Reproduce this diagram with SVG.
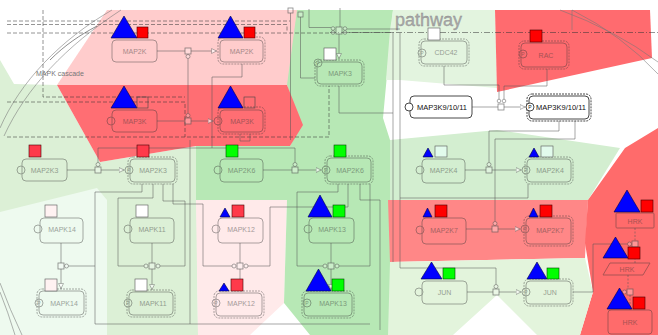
<svg xmlns="http://www.w3.org/2000/svg" width="658" height="335" viewBox="0 0 658 335">
<defs>
<style>
text{font-family:"Liberation Sans",Arial,sans-serif}
.f{opacity:0.45}
.f rect,.f circle,.f polygon{fill:none;stroke:#333;stroke-width:0.9}
.f .d{stroke-dasharray:2,1}
.f text{font-size:7px;fill:#333;text-anchor:middle}
.f .p{font-size:5px}
.bk rect,.bk circle{fill:#fff;stroke:#333;stroke-width:0.9}
.bk .d{fill:none;stroke-dasharray:2,1}
.bk text{font-size:7.5px;fill:#111;text-anchor:middle}
.bk .p{font-size:5px}
.tri{fill:#0000ff;stroke:#000044;stroke-width:0.6}
.sr{fill:#ff0000;stroke:#440000;stroke-width:0.6}
.sr2{fill:#ff3a4a;stroke:#440000;stroke-width:0.6}
.sg{fill:#00ff00;stroke:#004400;stroke-width:0.6}
.sw{fill:#ffffff;stroke:#555;stroke-width:0.6}
.sp{fill:#fff2f2;stroke:#555;stroke-width:0.6}
.sm{fill:#e2fbec;stroke:#555;stroke-width:0.6}
.so{fill:none;stroke:#444;stroke-width:0.6}
#connectors path{fill:none;stroke:#555;stroke-width:0.8;opacity:0.65}
#connectors .pb{fill:#fff;fill-opacity:0.4;stroke:#555;stroke-width:0.8;opacity:0.7}
#connectors .pc{fill:#fff;fill-opacity:0.4;stroke:#555;stroke-width:0.7;opacity:0.7}
#connectors .dl{stroke-dasharray:2,1.5}
.cmp{fill:none;stroke:#333;stroke-width:0.7;stroke-dasharray:4,2;opacity:0.75}
.arc{fill:none;stroke:#777;stroke-width:0.7;opacity:0.8}
</style>
<marker id="ar" viewBox="0 0 6 6" refX="6" refY="3" markerWidth="6" markerHeight="6" orient="auto" markerUnits="userSpaceOnUse">
<path d="M0.5,0.5 L5.5,3 L0.5,5.5 Z" fill="#fff" stroke="#666" stroke-width="0.7"/>
</marker>
</defs>
<g id="background">
<rect x="0" y="0" width="658" height="335" fill="#ffffff"/>
<polygon points="0,60 14,84 57,85 100,162 196,146 198,335 0,335" fill="#dcf0d6"/>
<polygon points="0,212 97,188 107,200 107,335 0,335" fill="#eefaef"/>
<polygon points="196,200 287,200 284,303 250,335 198,335" fill="#ffeaea"/>
<polygon points="287,10 393,10 383,118 390,140 390,335 310,335 284,303 287,200 196,200 196,146 290,146 300,125 287,85" fill="#b7e8b5"/>
<polygon points="393,10 495,10 497,88 400,80 386,80 390,30" fill="#e3f4df"/>
<polygon points="495,10 650,10 652,58 497,92" fill="#ff6b6f"/>
<polygon points="390,140 497,130 620,148 588,200 390,205" fill="#d3eed0"/>
<polygon points="388,200 588,200 585,258 390,262" fill="#ff8787"/>
<polygon points="658,128 625,148 588,200 585,243 593,292 580,335 658,335" fill="#ff6b6b"/>
<polygon points="390,262 585,258 593,292 580,335 537,335 497,295 453,335 388,335" fill="#e3f4dc"/>
<polygon points="57,85 287,85 303,125 290,146 196,146 100,162" fill="#ff6e73"/>
<polygon points="107,10 297,10 287,85 57,85" fill="#ffcccc"/>
<rect x="0" y="0" width="658" height="9" fill="#ffffff"/>
</g>
<g id="compartments">
<path class="arc" d="M0,128 C20,82 60,40 112,10"/>
<path class="arc" d="M4,136 C26,88 66,46 121,10"/>
<path class="arc" d="M50,60 C65,45 80,35 97,26" style="stroke:#333"/>
<path class="arc" d="M0,283 Q10,310 22,335"/>
<path class="arc" d="M0,292 Q8,312 15,335"/>
<path class="arc" d="M560,10 Q615,30 658,62"/>
<path class="arc" d="M572,10 Q622,35 658,74"/>
<path class="arc" d="M572,10 V30"/>
<path class="cmp" d="M7,21 H290"/>
<path class="cmp" d="M7,24.5 H287 V32"/>
<path class="cmp" d="M7,33 H330"/>
<path class="cmp" d="M330,32.5 H658" style="stroke-dasharray:6,2,1,2"/>
<path class="cmp" d="M43,10 V97 H185"/>
<path class="cmp" d="M7,102 H185 V137"/>
<path class="cmp" d="M7,137 H329 V86"/>
<text x="395" y="26" font-size="18" fill="#a8a8a8" stroke="#888" stroke-width="0.3">pathway</text>
<text x="36" y="76" font-size="7" fill="#777">MAPK cascade</text>
</g>
<g id="connectors">
<path d="M157,51 H185"/><rect class="pb" x="185" y="48" width="6" height="6"/><path d="M191,51 H217" marker-end="url(#ar)"/>
<circle class="pc" cx="188" cy="56.5" r="2"/><path d="M188,58.5 V113.5"/>
<path d="M157,121 H185"/><rect class="pb" x="185" y="118" width="6" height="6"/><path d="M191,121 H213.5" marker-end="url(#ar)"/>
<circle class="pc" cx="188" cy="115.5" r="2"/>
<path d="M242,64 V77 H212 V148"/>
<path d="M240,134 V141 H250 V134"/>
<path d="M67,170 H95"/><rect class="pb" x="95" y="167" width="6" height="6"/><path d="M101,170 H124.5" marker-end="url(#ar)"/><circle class="pc" cx="98" cy="164.5" r="2"/>
<path d="M263,170 H292"/><rect class="pb" x="292" y="167" width="6" height="6"/><path d="M298,170 H321.5" marker-end="url(#ar)"/><circle class="pc" cx="295" cy="164.5" r="2"/>
<path d="M98,162.5 V148 H295 V162.5"/>
<path d="M465,170 H486"/><rect class="pb" x="486" y="167" width="6" height="6"/><path d="M492,170 H521.5" marker-end="url(#ar)"/><circle class="pc" cx="489" cy="164.5" r="2"/>
<path d="M489,162.5 V131 H559 V121"/>
<path d="M466,229 H492"/><rect class="pb" x="492" y="226" width="6" height="6"/><path d="M498,229 H520.5" marker-end="url(#ar)"/><circle class="pc" cx="495" cy="223.5" r="2"/>
<path d="M495,221.5 V139 H575 V121"/>
<path d="M528,184 V198 H400"/>
<path d="M472,107 H498"/><rect class="pb" x="498" y="104" width="6" height="6"/><path d="M504,107 H525.5" marker-end="url(#ar)"/>
<circle class="pc" cx="499" cy="101" r="1.8"/><circle class="pc" cx="504" cy="101" r="1.8"/>
<path d="M444,66 V85 H499 V99.2"/><path d="M547,69 V86 H504 V99.2"/>
<path d="M467,292 H493"/><rect class="pb" x="493" y="289" width="6" height="6"/><path d="M499,292 H521.5" marker-end="url(#ar)"/><circle class="pc" cx="496" cy="286.5" r="2"/>
<path d="M496,284.5 V268 H400 V33"/>
<path d="M573,292 H593 V244 H627.5"/>
<path class="dl" d="M635,228 V241"/><rect class="pb" x="632" y="241" width="6" height="6"/><circle class="pc" cx="629.5" cy="244" r="2"/><path class="dl" d="M635,247 V263"/>
<path class="dl" d="M628,275 V289"/><rect class="pb" x="627" y="289" width="6" height="6"/><circle class="pc" cx="624.5" cy="292" r="2"/><path class="dl" d="M630,295 V310"/>
<path d="M61,243 V263"/><rect class="pb" x="58" y="263" width="6" height="6"/><circle class="pc" cx="66.5" cy="266" r="2"/><path d="M61,269 V289" marker-end="url(#ar)"/>
<path d="M68.5,266 H95"/><path d="M142,184 V192 H95 V324 H370"/><path d="M190,324 V140"/>
<path d="M152,243 V263"/><rect class="pb" x="149" y="263" width="6" height="6"/><circle class="pc" cx="146" cy="266" r="2"/><circle class="pc" cx="158" cy="266" r="2"/><path d="M152,269 V290" marker-end="url(#ar)"/>
<path d="M144,266 H118 V198 H153 V184"/><path d="M160,266 H185 V201 H163 V184"/>
<path d="M240,243 V263"/><rect class="pb" x="237" y="263" width="6" height="6"/><circle class="pc" cx="234" cy="266" r="2"/><circle class="pc" cx="246" cy="266" r="2"/><path d="M240,269 V291" marker-end="url(#ar)"/>
<path d="M232,266 H203 V204 H173 V184"/><path d="M248,266 H270 V207 H348 V184"/>
<path d="M331,243 V263"/><rect class="pb" x="328" y="263" width="6" height="6"/><circle class="pc" cx="325" cy="266" r="2"/><circle class="pc" cx="337" cy="266" r="2"/><path d="M331,269 V290" marker-end="url(#ar)"/>
<path d="M323,266 H297 V192 H338 V184"/><path d="M339,266 H370 V184"/><path d="M360,184 V200 H380 V330"/>
<rect class="pb" x="288" y="8" width="5" height="5"/><rect class="pb" x="298" y="12" width="5" height="5"/>
<path d="M290.5,13 V140"/><path d="M300.5,17 V78 H315"/>
<path d="M309,9 V27.5 H331"/><path d="M340,8 V27"/>
<rect class="pb" x="336" y="27" width="6" height="7"/>
<circle class="pc" cx="333" cy="28.5" r="1.8"/><circle class="pc" cx="333" cy="32.5" r="1.8"/><circle class="pc" cx="345" cy="28.5" r="1.8"/><circle class="pc" cx="345" cy="32.5" r="1.8"/>
<path d="M347,29 H400"/><path d="M347,32.5 H393"/>
<path d="M339,34 V59" marker-end="url(#ar)"/>
<path d="M339,86 V113 H393"/><path d="M393,32 V262"/>
</g>
<g id="MAP2K-1"><g class="f"><rect x="112" y="40" width="45" height="22" rx="4"/><text x="134.5" y="54">MAP2K</text></g><polygon class="tri" points="111,38 124,16 137,38"/><rect class="sr" x="137" y="27" width="11" height="11"/></g>
<g id="MAP2K-2"><g class="f"><rect class="d" x="218" y="37" width="47" height="27" rx="5"/><rect x="220" y="40" width="43" height="22" rx="4"/><text x="241.5" y="54">MAP2K</text></g><polygon class="tri" points="218,38 230.5,16 243,38"/><rect class="sr" x="244" y="27" width="11" height="11"/></g>
<g id="MAP3K-1"><g class="f"><rect x="112" y="110" width="45" height="22" rx="4"/><circle cx="111" cy="121" r="4"/><text x="134.5" y="124">MAP3K</text></g><polygon class="tri" points="111,108 124,86 137,108"/><rect class="so" x="137" y="97" width="11" height="11"/></g>
<g id="MAP3K-2"><g class="f"><rect class="d" x="218" y="107" width="47" height="27" rx="5"/><rect x="220" y="110" width="43" height="22" rx="4"/><circle cx="218" cy="121" r="4"/><text x="242" y="124">MAP3K</text></g><polygon class="tri" points="218,108 230.5,86 243,108"/><rect class="so" x="244" y="97" width="11" height="11"/></g>
<g id="MAPK3"><g class="f"><rect class="d" x="315" y="60" width="49" height="26" rx="5"/><rect x="317" y="62" width="45" height="22" rx="4"/><circle cx="318" cy="63" r="4"/><text class="p" x="318" y="65">P</text><text x="340" y="76">MAPK3</text></g><rect class="sw" x="324" y="48" width="12" height="12"/></g>
<g id="CDC42"><g class="f"><rect class="d" x="419" y="39" width="50" height="27" rx="5"/><rect x="421" y="41" width="46" height="23" rx="4"/><circle cx="422" cy="53" r="4"/><text class="p" x="422" y="55">P</text><text x="446" y="55">CDC42</text></g><rect class="sw" x="428" y="28" width="12" height="12"/></g>
<g id="RAC"><g class="f"><rect class="d" x="519" y="41" width="50" height="28" rx="5"/><rect x="521" y="43" width="46" height="24" rx="4"/><circle cx="523" cy="54" r="4"/><text class="p" x="523" y="56">P</text><text x="546" y="58">RAC</text></g><rect class="sr" x="530" y="30" width="12" height="12"/></g>
<g id="MAP3K9-10-11-1" class="bk"><rect x="410" y="96" width="62" height="22" rx="4"/><circle cx="409" cy="107" r="4"/><text x="442" y="110">MAP3K9/10/11</text></g>
<g id="MAP3K9-10-11-2" class="bk"><rect class="d" x="527" y="94" width="64" height="27" rx="5"/><rect x="529" y="96" width="60" height="23" rx="4"/><circle cx="530" cy="107" r="4"/><text class="p" x="530" y="109">P</text><text x="561" y="110">MAP3K9/10/11</text></g>
<g id="MAP2K3-1"><g class="f"><rect x="22" y="159" width="45" height="22" rx="4"/><circle cx="21" cy="170" r="4"/><text x="44.5" y="173">MAP2K3</text></g><rect class="sr2" x="29" y="145" width="12" height="12"/></g>
<g id="MAP2K3-2"><g class="f"><rect class="d" x="128" y="157" width="49" height="27" rx="5"/><rect x="130" y="159" width="45" height="23" rx="4"/><circle cx="129" cy="170" r="4"/><text class="p" x="129" y="172">P</text><text x="153" y="173">MAP2K3</text></g><rect class="sr2" x="137" y="145" width="12" height="12"/></g>
<g id="MAP2K6-1"><g class="f"><rect x="220" y="159" width="43" height="23" rx="4"/><circle cx="218" cy="170" r="4"/><text x="241.5" y="173">MAP2K6</text></g><rect class="sg" x="226" y="145" width="12" height="12"/></g>
<g id="MAP2K6-2"><g class="f"><rect class="d" x="325" y="156" width="48" height="28" rx="5"/><rect x="327" y="158" width="44" height="24" rx="4"/><circle cx="326" cy="170" r="4"/><text class="p" x="326" y="172">P</text><text x="350" y="173">MAP2K6</text></g><rect class="sg" x="334" y="145" width="12" height="12"/></g>
<g id="MAP2K4-1"><g class="f"><rect x="422" y="159" width="43" height="24" rx="4"/><circle cx="420" cy="170" r="4"/><text x="443.5" y="173">MAP2K4</text></g><polygon class="tri" points="423,157 428,148 433,157"/><rect class="sm" x="435" y="146" width="12" height="11"/></g>
<g id="MAP2K4-2"><g class="f"><rect class="d" x="525" y="157" width="48" height="27" rx="5"/><rect x="527" y="159" width="44" height="23" rx="4"/><circle cx="526" cy="170" r="4"/><text class="p" x="526" y="172">P</text><text x="550" y="173">MAP2K4</text></g><polygon class="tri" points="529,157 534,148 539,157"/><rect class="sm" x="541" y="146" width="12" height="11"/></g>
<g id="MAPK14-1"><g class="f"><rect x="40" y="218" width="43" height="25" rx="4"/><circle cx="38" cy="229" r="4"/><text x="62" y="232">MAPK14</text></g><rect class="sp" x="45" y="205" width="12" height="12"/></g>
<g id="MAPK11-1"><g class="f"><rect x="130" y="218" width="44" height="25" rx="4"/><circle cx="128" cy="229" r="4"/><text x="152" y="232">MAPK11</text></g><rect class="sw" x="136" y="205" width="12" height="12"/></g>
<g id="MAPK12-1"><g class="f"><rect x="218" y="218" width="45" height="25" rx="4"/><circle cx="216" cy="229" r="4"/><text x="241" y="232">MAPK12</text></g><polygon class="tri" points="220,217 225,208 230,217"/><rect class="sr2" x="232" y="205" width="12" height="12"/></g>
<g id="MAPK13-1"><g class="f"><rect x="309" y="218" width="45" height="25" rx="4"/><circle cx="308" cy="229" r="4"/><text x="332" y="232">MAPK13</text></g><polygon class="tri" points="308,217 320,195 332,217"/><rect class="sg" x="333" y="205" width="12" height="12"/></g>
<g id="MAP2K7-1"><g class="f"><rect x="422" y="218" width="44" height="26" rx="4"/><circle cx="420" cy="230" r="4"/><text x="444" y="233">MAP2K7</text></g><polygon class="tri" points="423,217 427.5,208 432,217"/><rect class="sr" x="435" y="205" width="12" height="12"/></g>
<g id="MAP2K7-2"><g class="f"><rect class="d" x="524" y="216" width="49" height="30" rx="5"/><rect x="526" y="218" width="45" height="26" rx="4"/><circle cx="525" cy="229" r="4"/><text class="p" x="525" y="231">P</text><text x="550" y="233">MAP2K7</text></g><polygon class="tri" points="529,217 533.5,208 538,217"/><rect class="sr" x="540" y="205" width="12" height="12"/></g>
<g id="HRK-1"><g class="f"><rect x="616" y="213" width="38" height="15" rx="1"/><text x="635" y="223.5">HRK</text></g><polygon class="tri" points="614,212 627,190 640,212"/><rect class="sr" x="641" y="200" width="12" height="12"/></g>
<g id="HRK-2"><g class="f"><polygon points="610,263 650,263 643,275 603,275"/><text x="627" y="272">HRK</text></g><polygon class="tri" points="603,258 615.5,237 628,258"/><rect class="sr" x="628" y="247" width="12" height="12"/></g>
<g id="HRK-3"><g class="f"><rect x="608" y="310" width="44" height="24" rx="3"/><text x="630" y="325">HRK</text></g><polygon class="tri" points="607,309 619.5,288 632,309"/><rect class="sr" x="633" y="297" width="12" height="12"/></g>
<g id="MAPK14-2"><g class="f"><rect class="d" x="37" y="289" width="49" height="28" rx="5"/><rect x="39" y="291" width="45" height="24" rx="4"/><circle cx="39" cy="303" r="4"/><text class="p" x="39" y="305">P</text><text x="64" y="306">MAPK14</text></g><rect class="sp" x="45" y="279" width="12" height="12"/></g>
<g id="MAPK11-2"><g class="f"><rect class="d" x="127" y="290" width="48" height="27" rx="5"/><rect x="129" y="292" width="44" height="23" rx="4"/><circle cx="128" cy="303" r="4"/><text class="p" x="128" y="305">P</text><text x="153" y="306">MAPK11</text></g><rect class="sw" x="135" y="279" width="12" height="12"/></g>
<g id="MAPK12-2"><g class="f"><rect class="d" x="214" y="291" width="50" height="27" rx="5"/><rect x="216" y="293" width="46" height="23" rx="4"/><circle cx="216" cy="303" r="4"/><text class="p" x="216" y="305">P</text><text x="241" y="306">MAPK12</text></g><polygon class="tri" points="219,291 224,283 229,291"/><rect class="sr2" x="231" y="279" width="12" height="12"/></g>
<g id="MAPK13-2"><g class="f"><rect class="d" x="302" y="291" width="52" height="27" rx="5"/><rect x="304" y="293" width="48" height="23" rx="4"/><circle cx="307" cy="303" r="4"/><text class="p" x="307" y="305">P</text><text x="333" y="306">MAPK13</text></g><polygon class="tri" points="306,291 318.5,269 331,291"/><rect class="sg" x="332" y="279" width="12" height="12"/></g>
<g id="JUN-1"><g class="f"><rect x="422" y="281" width="45" height="23" rx="4"/><circle cx="419" cy="292" r="4"/><text x="444.5" y="295">JUN</text></g><polygon class="tri" points="421,279 431.5,262 442,279"/><rect class="sg" x="443" y="268" width="12" height="11"/></g>
<g id="JUN-2"><g class="f"><rect class="d" x="524" y="279" width="49" height="27" rx="5"/><rect x="526" y="281" width="45" height="23" rx="4"/><circle cx="526" cy="292" r="4"/><text class="p" x="526" y="294">P</text><text x="550" y="295">JUN</text></g><polygon class="tri" points="527,279 537,262 547,279"/><rect class="sg" x="547" y="268" width="12" height="11"/></g>
</svg>
